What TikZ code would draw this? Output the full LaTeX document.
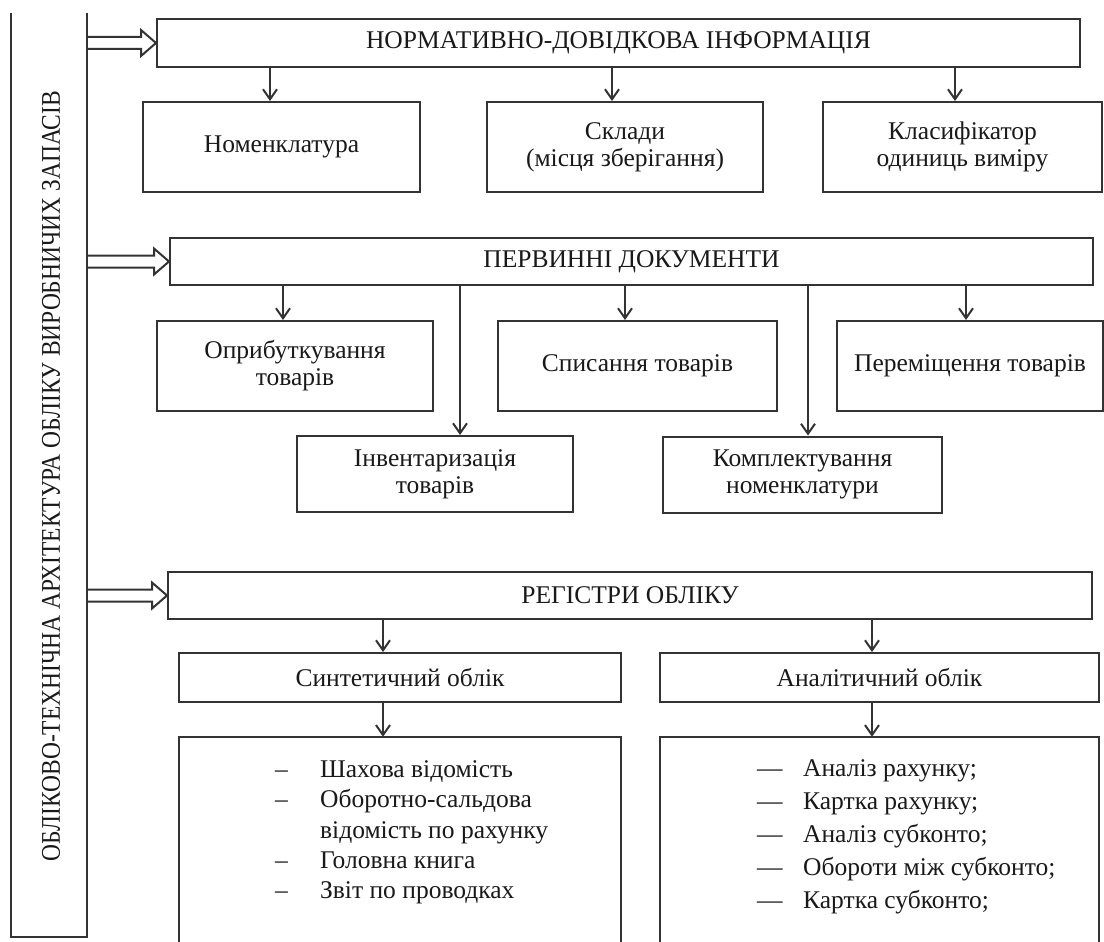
\documentclass[tikz,border=0pt]{standalone}
\usepackage{fontspec}
\setmainfont{Liberation Serif}
\usetikzlibrary{arrows.meta,calc}
\begin{document}
\begin{tikzpicture}[x=1pt,y=-1pt,
 ln/.style={draw=black!80, line width=2pt},
 box/.style={ln, inner sep=0pt, align=center, font=\fontsize{25.5}{27}\selectfont, text=black!90},
 arr/.style={draw=black!80, line width=2pt, -{Straight Barb[length=10pt,width=14pt]}},
 hol/.style={draw=black!80, line width=2pt, line join=miter},
 item/.style={inner sep=0pt, anchor=base west, font=\fontsize{25.5}{27}\selectfont, text=black!90}]

\useasboundingbox (0,0) rectangle (1104,942);
\fill[white] (0,0) rectangle (1104,942);

% left tall box
\node[inner sep=0pt, minimum width=76pt, minimum height=924pt] (L) at (49,475) {};
\draw[ln] (L.north west) -- (L.south west) -- (L.south east) -- (L.north east);
\node[rotate=90, inner sep=0pt, text=black!90, font=\fontsize{27}{27}\selectfont] (Lt) at (51,476)
  {\scalebox{0.87}[1]{ОБЛІКОВО-ТЕХНІЧНА АРХІТЕКТУРА ОБЛІКУ ВИРОБНИЧИХ ЗАПАСІВ}};

% block 1
\node[box, minimum width=923pt, minimum height=48pt] (N) at (618.5,43) {НОРМАТИВНО-ДОВІДКОВА ІНФОРМАЦІЯ};
\node[box, minimum width=277pt, minimum height=90pt] (Nom) at (281.5,147) {Номенклатура};
\node[box, minimum width=276pt, minimum height=90pt] (Skl) at (625,147) {Склади\\(місця зберігання)};
\node[box, minimum width=279pt, minimum height=90pt] (Kla) at (962.5,147) {Класифікатор\\одиниць виміру};

% block 2
\node[box, minimum width=923pt, minimum height=47pt] (P) at (631.5,261.5) {ПЕРВИННІ ДОКУМЕНТИ};
\node[box, minimum width=276pt, minimum height=90pt] (Opr) at (295,366) {Оприбуткування\\товарів};
\node[box, minimum width=279pt, minimum height=90pt] (Spy) at (637.5,366) {Списання товарів};
\node[box, minimum width=266pt, minimum height=90pt] (Per) at (970,366) {Переміщення товарів};
\node[box, minimum width=276pt, minimum height=76pt] (Inv) at (435,474) {Інвентаризація\\товарів};
\node[box, minimum width=279pt, minimum height=76pt] (Kom) at (802.5,474.5) {Комплектування\\номенклатури};

% block 3
\node[box, minimum width=924pt, minimum height=47pt] (R) at (630,595.5) {РЕГІСТРИ ОБЛІКУ};
\node[box, minimum width=442pt, minimum height=49pt] (Syn) at (400,677.5) {Синтетичний облік};
\node[box, minimum width=439pt, minimum height=49pt] (Ana) at (879.5,677.5) {Аналітичний облік};

% list boxes (open at the bottom)
\node[inner sep=0pt, minimum width=442pt, minimum height=210pt] (SL) at (400,842) {};
\node[inner sep=0pt, minimum width=439pt, minimum height=210pt] (AL) at (879.5,842) {};
\draw[ln] (SL.south west) -- (SL.north west) -- (SL.north east) -- (SL.south east);
\draw[ln] (AL.south west) -- (AL.north west) -- (AL.north east) -- (AL.south east);

\node[item] (s1) at (275,777) {\makebox[45pt][l]{–}Шахова відомість};
\node[item] (s2) at (275,807) {\makebox[45pt][l]{–}Оборотно-сальдова};
\node[item] (s3) at (275,838) {\makebox[45pt][l]{}відомість по рахунку};
\node[item] (s4) at (275,868) {\makebox[45pt][l]{–}Головна книга};
\node[item] (s5) at (275,898) {\makebox[45pt][l]{–}Звіт по проводках};

\node[item] (t1) at (757,776) {\makebox[46pt][l]{—}Аналіз рахунку;};
\node[item] (t2) at (757,809) {\makebox[46pt][l]{—}Картка рахунку;};
\node[item] (t3) at (757,842) {\makebox[46pt][l]{—}Аналіз субконто;};
\node[item] (t4) at (757,875) {\makebox[46pt][l]{—}Обороти між субконто;};
\node[item] (t5) at (757,908) {\makebox[46pt][l]{—}Картка субконто;};

% hollow double arrows
\path (N.west) ++(-15,-6) coordinate (n1) ++(0,12) coordinate (n2);
\draw[hol] (L.east |- n1) -- (n1) -- ++(0,-7) -- (N.west) -- ++(-15,13) -- (n2) -- (L.east |- n2);
\path (P.west) ++(-15,-6) coordinate (p1) ++(0,12) coordinate (p2);
\draw[hol] (L.east |- p1) -- (p1) -- ++(0,-7) -- (P.west) -- ++(-15,13) -- (p2) -- (L.east |- p2);
\path (R.west) ++(-15,-6) coordinate (r1) ++(0,12) coordinate (r2);
\draw[hol] (L.east |- r1) -- (r1) -- ++(0,-7) -- (R.west) -- ++(-15,13) -- (r2) -- (L.east |- r2);

% single arrows
\coordinate (x1) at (270,0);
\coordinate (x2) at (612,0);
\coordinate (x3) at (955,0);
\draw[arr] (x1 |- N.south) -- (x1 |- Nom.north);
\draw[arr] (x2 |- N.south) -- (x2 |- Skl.north);
\draw[arr] (x3 |- N.south) -- (x3 |- Kla.north);

\coordinate (y1) at (283,0);
\coordinate (y2) at (625,0);
\coordinate (y3) at (966,0);
\coordinate (y4) at (460,0);
\coordinate (y5) at (808,0);
\draw[arr] (y1 |- P.south) -- (y1 |- Opr.north);
\draw[arr] (y2 |- P.south) -- (y2 |- Spy.north);
\draw[arr] (y3 |- P.south) -- (y3 |- Per.north);
\draw[arr] (y4 |- P.south) -- (y4 |- Inv.north);
\draw[arr] (y5 |- P.south) -- (y5 |- Kom.north);

\coordinate (z1) at (383,0);
\coordinate (z2) at (872,0);
\draw[arr] (z1 |- R.south) -- (z1 |- Syn.north);
\draw[arr] (z2 |- R.south) -- (z2 |- Ana.north);
\draw[arr] (z1 |- Syn.south) -- (z1 |- SL.north);
\draw[arr] (z2 |- Ana.south) -- (z2 |- AL.north);
\end{tikzpicture}
\end{document}
